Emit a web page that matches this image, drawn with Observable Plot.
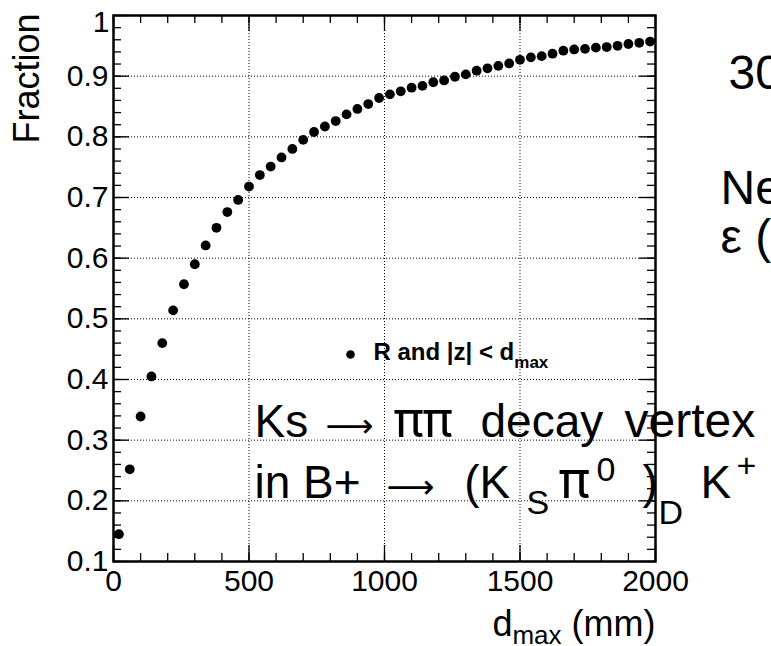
<!DOCTYPE html>
<html><head><meta charset="utf-8">
<script src="https://cdn.jsdelivr.net/npm/d3@7"></script>
<script src="https://cdn.jsdelivr.net/npm/@observablehq/plot@0.6"></script>
<style>
html,body{margin:0;padding:0;background:#fff;overflow:hidden;}
svg{display:block;}
</style></head><body><div id="chart"></div>
<script>
// data
const dmax = [20,60,100,140,180,220,260,300,340,380,420,460,500,540,580,620,660,700,740,780,
  820,860,900,940,980,1020,1060,1100,1140,1180,1220,1260,1300,1340,1380,1420,1460,1500,1540,1580,
  1620,1660,1700,1740,1780,1820,1860,1900,1940,1980];
const fraction = [0.145,0.252,0.339,0.405,0.460,0.514,0.557,0.590,0.621,0.650,0.676,0.696,0.718,0.737,0.751,0.766,0.780,0.795,0.808,0.817,
  0.826,0.837,0.846,0.854,0.864,0.870,0.875,0.881,0.884,0.890,0.893,0.899,0.903,0.909,0.913,0.917,0.921,0.927,0.931,0.933,
  0.937,0.942,0.944,0.945,0.947,0.948,0.950,0.953,0.955,0.957];
const xMajor = [0,500,1000,1500,2000];
const xMajorLabels = ["0","500","1000","1500","2000"];
const yMajor = [0.1,0.2,0.3,0.4,0.5,0.6,0.7,0.8,0.9,1.0];
const yMajorLabels = ["0.1","0.2","0.3","0.4","0.5","0.6","0.7","0.8","0.9","1"];
const xMinor = d3.range(0,2001,100);
const yMinor = d3.range(5,51).map(i => i/50);

const W = 771, H = 646, ML = 113, MR = 116, MT = 15, MB = 85;
const IW = W - ML - MR, IH = H - MT - MB;
const data = dmax.map((d, i) => ({d, f: fraction[i]}));
const FONT = "'Liberation Sans', Arial, Helvetica, sans-serif";
const SYM = "Inter, 'DejaVu Sans', sans-serif";
const ARROW = "'DejaVu Sans', sans-serif";

const chart = Plot.plot({
  width: W, height: H,
  marginLeft: ML, marginRight: MR, marginTop: MT, marginBottom: MB,
  style: {fontFamily: FONT, background: "white", color: "black"},
  x: {domain: [0, 2000], axis: null},
  y: {domain: [0.1, 1], axis: null},
  marks: [
    Plot.ruleX(xMajor, {x: d => d, stroke: "black", strokeWidth: 1, strokeDasharray: "1,2"}),
    Plot.ruleY(yMajor, {y: d => d, stroke: "black", strokeWidth: 1, strokeDasharray: "1,2"}),
    Plot.tickX(xMinor, {x: d => d, insetTop: IH - 8, stroke: "black", strokeWidth: 1.3}),
    Plot.tickX(xMinor, {x: d => d, insetBottom: IH - 8, stroke: "black", strokeWidth: 1.3}),
    Plot.tickX(xMajor, {x: d => d, insetTop: IH - 16, stroke: "black", strokeWidth: 1.3}),
    Plot.tickX(xMajor, {x: d => d, insetBottom: IH - 16, stroke: "black", strokeWidth: 1.3}),
    Plot.tickY(yMinor, {y: d => d, insetRight: IW - 8, stroke: "black", strokeWidth: 1.3}),
    Plot.tickY(yMinor, {y: d => d, insetLeft: IW - 8, stroke: "black", strokeWidth: 1.3}),
    Plot.tickY(yMajor, {y: d => d, insetRight: IW - 16, stroke: "black", strokeWidth: 1.3}),
    Plot.tickY(yMajor, {y: d => d, insetLeft: IW - 16, stroke: "black", strokeWidth: 1.3}),
    Plot.frame({stroke: "black", strokeWidth: 2.5}),
    Plot.dot(data, {x: "d", y: "f", r: 4.9, fill: "black", stroke: "none"}),
    // tick labels
    Plot.text(xMajor, {x: d => d, frameAnchor: "bottom", dy: 8, lineAnchor: "top",
      text: (d, i) => xMajorLabels[i], fontSize: 30, fill: "black"}),
    Plot.text(yMajor.slice(0, 9), {y: d => d, frameAnchor: "left", dx: -5, textAnchor: "end",
      text: (d, i) => yMajorLabels[i], fontSize: 30, fill: "black"}),
    Plot.text(yMajor.slice(9), {y: d => d, frameAnchor: "left", dx: -4, dy: 7, textAnchor: "end",
      text: (d, i) => yMajorLabels[9 + i], fontSize: 30, fill: "black"}),
    // axis titles
    Plot.text(["Fraction"], {frameAnchor: "top-left", dx: 27 - ML, dy: 13 - MT, rotate: -90,
      textAnchor: "end", lineAnchor: "middle", fontSize: 36, fill: "black"}),
    Plot.text(["§XLABEL"], {frameAnchor: "bottom-right", dy: 635 - (H - MB), textAnchor: "end",
      lineAnchor: "bottom", fontSize: 36, fill: "black"}),
    // legend
    Plot.dot([0], {frameAnchor: "top-left", dx: 350 - ML, dy: 354 - MT, r: 4.3, fill: "black"}),
    Plot.text(["§LEGEND"], {frameAnchor: "top-left", dx: 373 - ML, dy: 359 - MT, textAnchor: "start",
      lineAnchor: "bottom", fontSize: 24, fontWeight: "bold", fill: "black"}),
    // annotations
    Plot.text(["§LINE1"], {frameAnchor: "top-left", dx: 254 - ML, dy: 436 - MT,
      textAnchor: "start", lineAnchor: "bottom", fontSize: 46, fill: "black"}),
    Plot.text(["§LINE2"], {frameAnchor: "top-left", dx: 254 - ML, dy: 497 - MT,
      textAnchor: "start", lineAnchor: "bottom", fontSize: 46, fill: "black"}),
    Plot.text(["30"], {frameAnchor: "top-left", dx: 728 - ML, dy: 88 - MT,
      textAnchor: "start", lineAnchor: "bottom", fontSize: 48, fill: "black"}),
    Plot.text(["Ne"], {frameAnchor: "top-left", dx: 720 - ML, dy: 203 - MT,
      textAnchor: "start", lineAnchor: "bottom", fontSize: 48, fill: "black"}),
    Plot.text(["ε ("], {frameAnchor: "top-left", dx: 720 - ML, dy: 252 - MT,
      textAnchor: "start", lineAnchor: "bottom", fontSize: 48, fill: "black"})
  ]
});

function rich(svg, key, parts) {
  const t = [...svg.querySelectorAll("text")].find(e => e.textContent === key);
  if (!t) return null;
  t.textContent = "";
  let shift = 0;
  const spans = [];
  for (const p of parts) {
    const ts = document.createElementNS("http://www.w3.org/2000/svg", "tspan");
    const s = p.shift || 0;
    if (s - shift !== 0) ts.setAttribute("dy", s - shift);
    shift = s;
    if (p.size) ts.setAttribute("font-size", p.size);
    if (p.family) ts.setAttribute("font-family", p.family);
    if (p.weight) ts.setAttribute("font-weight", p.weight);
    ts.textContent = p.t;
    t.appendChild(ts);
    spans.push([ts, p]);
  }
  return {t, spans};
}
function place(r) {
  if (!r) return;
  try {
    for (const [ts, p] of r.spans) {
      if (p.fit == null) continue;
      const len = ts.getComputedTextLength();
      const size = +(p.size || 46);
      if (len > 0) ts.setAttribute("font-size", Math.min(90, size * p.fit / len));
    }
    const x0 = r.t.getStartPositionOfChar(0).x;
    for (const [ts, p] of r.spans) {
      if (p.at == null) continue;
      const cur = ts.getStartPositionOfChar(0).x - x0;
      ts.setAttribute("dx", p.at - cur);
    }
  } catch (e) {}
}
rich(chart, "§XLABEL", [{t: "d"}, {t: "max", size: 26, shift: 8}, {t: " (mm)"}]);
rich(chart, "§LEGEND", [{t: "R and |z| < d"}, {t: "max", size: 17, shift: 8}]);
const line1 = rich(chart, "§LINE1", [
  {t: "Ks ", at: 0},
  {t: "⟶", family: ARROW, size: 30, fit: 48, at: 71},
  {t: " ππ ", family: SYM, size: 50, weight: 400, at: 125},
  {t: "decay ", at: 226},
  {t: "vertex", size: 48, at: 370}
]);
const line2 = rich(chart, "§LINE2", [
  {t: "in B+ ", at: 0},
  {t: "⟶", family: ARROW, size: 30, fit: 48, at: 132},
  {t: " (K", at: 197},
  {t: "S", size: 34, shift: 16, at: 272},
  {t: "π", family: SYM, size: 52, weight: 400, at: 304},
  {t: "0", size: 34, shift: -17, at: 342},
  {t: ")", at: 388},
  {t: "D", size: 34, shift: 26, at: 404},
  {t: "K", at: 446},
  {t: "+", size: 34, shift: -21, at: 482}
]);

document.getElementById("chart").appendChild(chart);
place(line1);
place(line2);
</script>
</body></html>
